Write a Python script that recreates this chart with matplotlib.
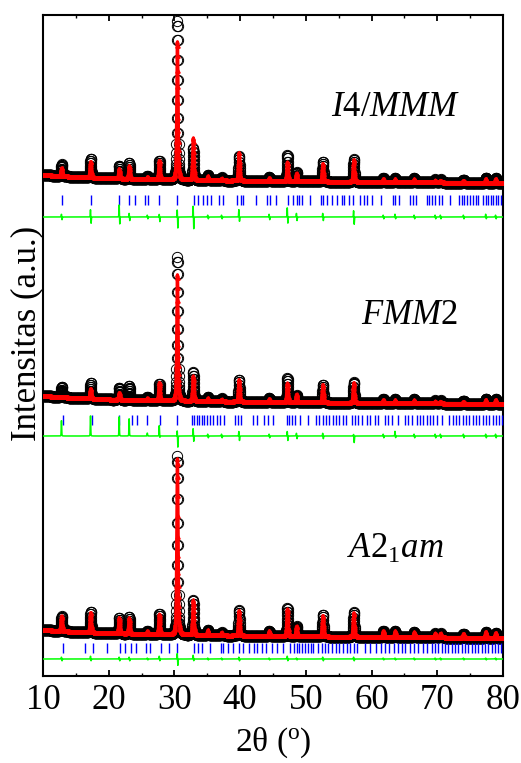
import numpy as np
import matplotlib
matplotlib.use('Agg')
from matplotlib import pyplot as plt

plt.rcParams['font.family'] = ['Liberation Serif', 'DejaVu Serif']
plt.rcParams['mathtext.fontset'] = 'custom'
plt.rcParams['mathtext.rm'] = 'Liberation Serif'
plt.rcParams['mathtext.it'] = 'Liberation Serif:italic'

# 2theta grid (deg) of the measurement
tt = np.arange(10, 80.001, 0.02)

# reflections seen in the pattern (deg)
peak_pos = [12.84, 17.26, 21.62, 23.14, 25.9, 27.72, 30.46, 32.88, 35.1, 37.2, 39.84, 44.44,
            47.2, 48.6, 52.6, 57.3, 61.8, 63.6, 66.5, 69.7, 70.5, 74.0, 77.4, 78.9]

# background shape (relative), same for all three fits
bg_x = [10, 15, 20, 30, 50, 80]
bg_y = [8, 6, 4.5, 3, 1.5, 0]

# I4/MMM
obs_i4 = [12, 19, 13, 16, 3, 19, 159, 32, 5, 3, 25, 4, 26, 9, 20, 23, 4, 4, 4, 3, 3, 3, 5, 5]
cal_i4 = [8, 16, 10, 13, 2, 19, 138, 42, 4, 2, 28, 3, 19, 8, 18, 22, 3, 3, 3, 2, 2, 2, 4, 4]
dup_i4 = [3, 8, 13, 4, 2, 3, 8, 12, 2, 2, 8, 3, 10, 4, 4, 7, 2, 3, 2, 2, 2, 2, 3, 2]
ddn_i4 = [3, 7, 8, 4, 2, 5, 12, 13, 2, 2, 5, 3, 7, 4, 4, 8, 2, 2, 2, 2, 2, 2, 2, 2]
bragg_i4 = [12.84, 17.26, 21.62, 23.14, 24.0, 25.58, 25.93, 27.71, 30.45, 32.98, 33.64, 34.30,
            34.91, 35.57, 36.83, 37.44, 39.47, 40.08, 40.49, 42.42, 44.04, 44.55, 45.46, 47.34,
            48.10, 48.61, 49.01, 49.37, 50.63, 52.26, 52.56, 53.27, 53.93, 54.69, 55.45, 55.81,
            56.62, 57.23, 58.24, 58.85, 59.36, 60.02, 61.39, 63.22, 63.57, 64.23, 65.86, 66.26,
            66.77, 68.39, 68.8, 69.15, 69.66, 70.32, 70.67, 71.94, 73.36, 73.72, 74.07, 74.48,
            74.99, 75.39, 75.9, 76.26, 76.92, 77.42, 77.78, 78.13, 78.54, 78.95, 79.3, 79.66]

# FMM2
obs_fm = [10, 16, 12, 14, 3, 17, 144, 29, 4, 3, 22, 4, 24, 7, 18, 21, 4, 4, 4, 3, 3, 3, 5, 5]
cal_fm = [0, 10, 7, 0, 2, 18, 126, 25, 3, 2, 22, 3, 19, 8, 18, 20, 3, 3, 3, 2, 2, 2, 4, 4]
dup_fm = [16, 21, 20, 18, 3, 11, 6, 8, 2, 2, 5, 2, 5, 3, 3, 2, 2, 5, 2, 2, 2, 2, 2, 2]
ddn_fm = [0, 0, 0, 0, 0, 2, 12, 6, 2, 2, 5, 2, 5, 3, 3, 7, 2, 2, 2, 2, 2, 2, 2, 2]
bragg_fm = [13.09, 17.41, 21.62, 23.5, 24.26, 25.78, 27.81, 30.35, 32.63, 32.98, 33.39, 33.8,
            34.15, 34.51, 34.91, 35.42, 35.93, 36.43, 36.94, 37.55, 39.22, 39.73, 40.14, 42.01,
            42.52, 43.64, 44.3, 45.06, 47.09, 47.49, 47.85, 48.36, 49.12, 50.39, 51.55, 52.06,
            52.57, 53.07, 53.58, 54.09, 54.6, 55.1, 55.61, 56.12, 56.98, 57.49, 58.0, 58.5,
            59.26, 59.77, 60.53, 61.04, 62.06, 62.56, 63.07, 64.08, 65.1, 65.61, 66.11, 66.87,
            67.38, 67.89, 68.4, 68.9, 69.41, 69.92, 70.68, 71.85, 72.35, 72.86, 73.37, 73.88,
            74.38, 74.89, 75.4, 75.91, 76.41, 76.92, 77.43, 77.94, 78.44, 78.95, 79.46, 79.81]

# A2_1am
obs_a2 = [15, 21, 16, 17, 3, 21, 179, 35, 5, 3, 26, 5, 28, 10, 22, 25, 6, 6, 5, 4, 4, 4, 6, 5]
cal_a2 = [15, 20, 16, 16, 3, 20, 176, 35, 5, 3, 25, 5, 27, 10, 21, 24, 6, 6, 5, 4, 4, 4, 6, 5]
dup_a2 = [2, 3, 2, 2, 1, 3, 6, 4, 1, 1, 2, 1, 3, 1, 2, 2, 1, 1, 1, 1, 1, 1, 1, 1]
ddn_a2 = [2, 2, 2, 2, 1, 2, 7, 2, 1, 1, 2, 1, 2, 1, 2, 2, 1, 1, 1, 1, 1, 1, 1, 1]
bragg_a2 = [12.99, 16.39, 17.56, 19.69, 21.72, 22.48, 23.34, 24.16, 25.68, 26.29, 27.91, 29.23,
            30.45, 32.98, 33.64, 34.15, 35.41, 37.04, 37.44, 38.2, 38.97, 39.88, 40.49, 41.4,
            42.11, 42.52, 43.28, 43.94, 44.8, 45.66, 46.58, 47.59, 48.2, 48.61, 49.01, 49.42,
            49.87, 50.38, 50.74, 51.14, 51.9, 52.41, 52.92, 53.43, 53.93, 54.59, 55.1, 55.71,
            56.22, 56.72, 57.33, 57.74, 59.0, 59.77, 60.68, 61.39, 62.05, 62.71, 63.42, 64.08,
            64.59, 65.1, 65.86, 66.46, 67.12, 67.78, 68.5, 69.15, 69.66, 70.17, 70.67, 71.18,
            71.69, 72.2, 72.7, 73.21, 73.72, 74.23, 74.73, 75.24, 75.75, 76.26, 76.76, 77.27,
            77.78, 78.28, 78.79, 79.3, 79.66]

# vertical stacking: background level, bragg-tick row, difference baseline
offsets = [493, 272, 38]
tick_lvl = [476, 256, 28]
diff_lvl = [459, 240, 17]

names = [r'$I$4/$MMM$', r'$FMM$2', r'$A$2$_{1}$$am$']
label_xy = [(63.6, 568), (65.8, 361), (63.6, 127)]


def profile(x, pos, amp, w, eta=0.5, shift=0.0):
    y = np.zeros_like(x)
    for p, a in zip(pos, amp):
        d = (x - p - shift) / (w / 2)
        y += a * (eta / (1 + d**2) + (1 - eta) * np.exp(-np.log(2) * d**2))
    return y


fig = plt.figure(figsize=(5.21, 7.63), dpi=100)
ax = fig.add_axes([43/521, 1-676/763, 460/521, 661/763])

panels = [(obs_i4, cal_i4, dup_i4, ddn_i4, bragg_i4),
          (obs_fm, cal_fm, dup_fm, ddn_fm, bragg_fm),
          (obs_a2, cal_a2, dup_a2, ddn_a2, bragg_a2)]
for i, (ob, ca, du, dd, br) in enumerate(panels):
    bg = np.interp(tt, bg_x, bg_y) + offsets[i]
    yobs = bg + profile(tt, peak_pos, ob, 0.2)
    ycal = bg + profile(tt, peak_pos, ca, 0.22)
    ydif = (profile(tt, peak_pos, du, 0.08, eta=0.2, shift=-0.03)
            - profile(tt, peak_pos, dd, 0.08, eta=0.2, shift=0.05))
    ax.plot(tt, yobs, 'o', mfc='none', mec='k', ms=7.4, mew=0.7, zorder=2)
    ax.plot(tt, ycal, '-', color='red', lw=2.4, marker='^', ms=2.4, mec='red', zorder=3)
    ax.plot(br, [tick_lvl[i]]*len(br), '|', color='blue', ms=7, mew=1.0, zorder=3)
    ax.plot(tt, ydif + diff_lvl[i], color='#00ff00', lw=1.1, zorder=3)
    ax.text(label_xy[i][0], label_xy[i][1], names[i], fontsize=25, ha='center', va='center')

ax.set_xlim(10, 80)
ax.set_ylim(0, 661)
ax.set_xticks(np.arange(10, 81, 10))
ax.set_xticks(np.arange(15, 80, 10), minor=True)
ax.set_yticks([])
ax.tick_params(axis='x', which='major', direction='in', top=True, length=4.5, width=1.3,
               labelsize=25, pad=6)
ax.tick_params(axis='x', which='minor', direction='in', top=True, length=2.5, width=1.0)
for s in ax.spines.values():
    s.set_linewidth(1.5)

ax.set_xlabel(r'2θ ($^{\mathrm{o}}$)', fontsize=24, labelpad=6)
fig.text(27/521, 1-333/763, 'Intensitas (a.u.)', rotation=90, fontsize=25,
         ha='center', va='center')

fig.savefig('out.png', dpi=100)
